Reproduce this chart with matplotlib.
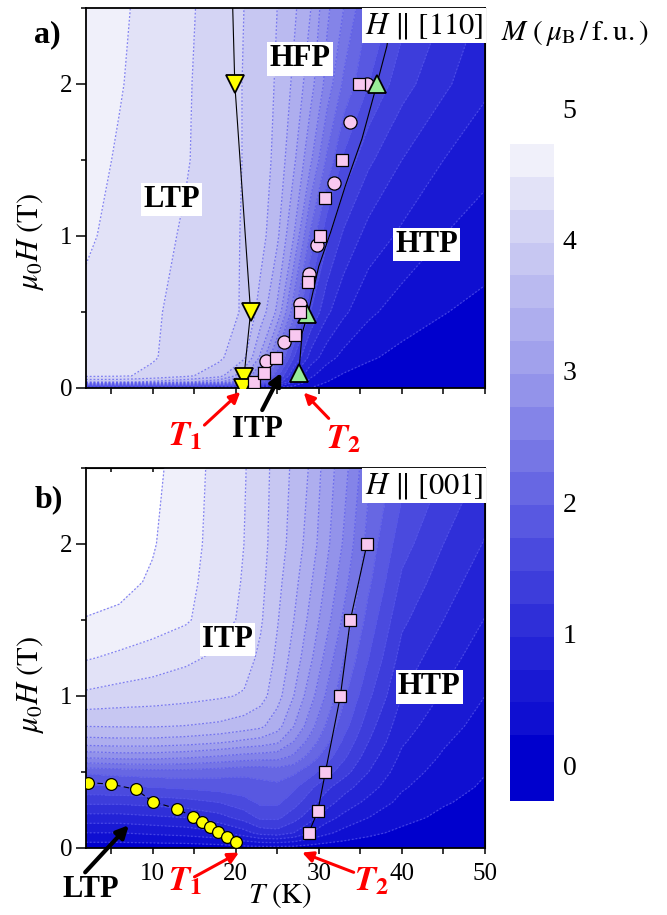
import numpy as np
import matplotlib.pyplot as plt

plt.rcParams['font.family'] = ['Liberation Serif', 'DejaVu Serif']
plt.rcParams['mathtext.fontset'] = 'stix'

# temperature grid (K) shared by both magnetization maps
T_grid = [2, 6, 10, 14, 18, 21, 23, 25, 27, 29, 31, 33, 36, 40, 45, 50]

# H || [110]: rows = field (T), columns = T_grid
H110 = [0, 0.04, 0.08, 0.2, 0.5, 1.0, 1.5, 2.0, 2.5]
M110 = [
    [0.6, 0.6, 0.6, 0.6, 0.6, 0.6, 0.5, 0.45, 0.35, 0.25, 0.15, 0.12, 0.1, 0.08, 0.06, 0.05],
    [3.8, 3.8, 3.7, 3.55, 3.3, 2.7, 2.1, 1.4, 0.8, 0.4, 0.25, 0.18, 0.12, 0.08, 0.06, 0.05],
    [4.3, 4.28, 4.2, 4.05, 3.85, 3.3, 2.6, 1.8, 1.0, 0.55, 0.32, 0.22, 0.15, 0.1, 0.07, 0.05],
    [4.4, 4.35, 4.27, 4.15, 4.05, 3.8, 3.2, 2.4, 1.5, 0.9, 0.6, 0.42, 0.28, 0.18, 0.12, 0.08],
    [4.45, 4.38, 4.28, 4.18, 4.08, 3.98, 3.65, 3.2, 2.35, 1.5, 1.05, 0.8, 0.55, 0.38, 0.26, 0.18],
    [4.53, 4.44, 4.33, 4.22, 4.1, 3.98, 3.85, 3.55, 3.0, 2.2, 1.55, 1.2, 0.9, 0.7, 0.5, 0.38],
    [4.6, 4.47, 4.36, 4.27, 4.12, 3.99, 3.87, 3.68, 3.3, 2.8, 2.2, 1.7, 1.3, 1.0, 0.75, 0.58],
    [4.65, 4.52, 4.38, 4.28, 4.12, 3.99, 3.88, 3.72, 3.45, 3.1, 2.65, 2.2, 1.75, 1.35, 1.05, 0.8],
    [4.7, 4.55, 4.4, 4.3, 4.13, 4.0, 3.88, 3.75, 3.55, 3.26, 2.8, 2.5, 2.0, 1.6, 1.25, 0.95],
]

# H || [001]: one column per temperature of T_grid, values along H001
H001 = [0, 0.1, 0.2, 0.3, 0.4, 0.5, 0.6, 0.7, 0.8, 1.0, 1.25, 1.5, 1.75, 2.0, 2.5]
M001_cols = [
    [0.1, 0.5, 0.9, 1.3, 1.7, 2.05, 2.8, 3.4, 3.75, 4.2, 4.52, 4.74, 4.85, 4.93, 4.97],
    [0.1, 0.5, 0.9, 1.3, 1.72, 2.1, 2.85, 3.42, 3.76, 4.15, 4.45, 4.7, 4.82, 4.88, 4.93],
    [0.1, 0.55, 0.95, 1.35, 1.75, 2.15, 2.85, 3.42, 3.76, 4.12, 4.38, 4.62, 4.72, 4.77, 4.82],
    [0.1, 0.6, 1.0, 1.4, 1.8, 2.15, 2.8, 3.38, 3.74, 4.08, 4.3, 4.53, 4.57, 4.6, 4.62],
    [0.12, 0.7, 1.15, 1.5, 1.85, 2.1, 2.72, 3.3, 3.7, 4.03, 4.2, 4.35, 4.38, 4.4, 4.42],
    [0.15, 0.9, 1.35, 1.65, 1.9, 2.05, 2.65, 3.2, 3.62, 3.98, 4.1, 4.2, 4.23, 4.25, 4.27],
    [0.15, 1.1, 1.55, 1.8, 1.95, 2.05, 2.62, 3.15, 3.55, 3.85, 3.95, 4.03, 4.07, 4.1, 4.12],
    [0.15, 1.15, 1.55, 1.8, 1.95, 2.1, 2.6, 3.05, 3.35, 3.6, 3.7, 3.77, 3.82, 3.87, 3.9],
    [0.15, 1.0, 1.35, 1.6, 1.8, 2.05, 2.45, 2.75, 3.0, 3.25, 3.4, 3.5, 3.58, 3.65, 3.7],
    [0.12, 0.75, 1.1, 1.35, 1.55, 1.85, 2.15, 2.4, 2.6, 2.85, 3.05, 3.18, 3.28, 3.38, 3.47],
    [0.1, 0.55, 0.85, 1.1, 1.3, 1.6, 1.85, 2.05, 2.2, 2.45, 2.65, 2.83, 2.95, 3.05, 3.12],
    [0.1, 0.42, 0.68, 0.9, 1.1, 1.35, 1.55, 1.7, 1.85, 2.05, 2.25, 2.45, 2.6, 2.72, 2.85],
    [0.1, 0.3, 0.5, 0.68, 0.85, 1.0, 1.12, 1.25, 1.35, 1.55, 1.75, 1.9, 2.05, 2.15, 2.3],
    [0.08, 0.2, 0.32, 0.43, 0.53, 0.62, 0.7, 0.78, 0.85, 1.0, 1.15, 1.3, 1.45, 1.6, 1.85],
    [0.06, 0.12, 0.2, 0.27, 0.34, 0.4, 0.47, 0.53, 0.6, 0.72, 0.85, 1.0, 1.12, 1.25, 1.5],
    [0.05, 0.09, 0.14, 0.18, 0.22, 0.26, 0.3, 0.35, 0.4, 0.5, 0.62, 0.74, 0.86, 0.98, 1.2],
]
M001 = np.array(M001_cols).T

# phase boundaries, H || [110]
t1a_T = [19.9, 21.8, 21.0, 20.9]
t1a_H = [2.0, 0.5, 0.07, 0.0]
t1a_line_T = [19.6, 19.9, 21.8, 21.0]
t1a_line_H = [2.6, 2.0, 0.5, 0.07]
t2a_T = [27.6, 28.6, 37.0]
t2a_H = [0.1, 0.49, 2.0]
t2a_line_T = [27.6, 28.0, 28.8, 30.0, 31.4, 33.2, 35.2, 37.0, 38.2, 39.0]
t2a_line_H = [0.1, 0.36, 0.51, 0.80, 1.02, 1.33, 1.64, 2.0, 2.25, 2.55]
sqa_T = [22.2, 23.4, 24.9, 27.1, 27.7, 28.7, 30.2, 30.8, 32.8, 34.8]
sqa_H = [0.04, 0.1, 0.2, 0.35, 0.5, 0.7, 1.0, 1.25, 1.5, 2.0]
cia_T = [23.7, 25.8, 27.8, 28.8, 29.8, 31.8, 33.8, 35.8]
cia_H = [0.18, 0.3, 0.55, 0.75, 0.94, 1.35, 1.75, 2.0]

# phase boundaries, H || [001]
t1b_T = [2.3, 5.0, 8.0, 10.0, 13.0, 14.85, 15.9, 16.9, 17.9, 19.0, 20.0]
t1b_H = [0.43, 0.42, 0.386, 0.305, 0.257, 0.206, 0.171, 0.14, 0.107, 0.074, 0.041]
t2b_T = [28.8, 29.9, 30.8, 32.6, 33.8, 35.8]
t2b_H = [0.1, 0.245, 0.5, 1.0, 1.5, 2.0]

# 0.25 muB contour steps, the lowest band reaching down to -0.25
levels = [-0.25] + [0.25 * i for i in range(1, 20)]
anchor_M = [0, 1, 2, 3, 4, 4.625]
anchor_rgb = np.array([(0, 0, 205), (40, 40, 215), (95, 95, 226),
                       (155, 155, 235), (205, 205, 243), (240, 240, 250)]) / 255
centers = [0.5 * (a + b) for a, b in zip(levels[:-1], levels[1:])]
centers[0] = 0
band_colors = [tuple(np.interp(c, anchor_M, anchor_rgb[:, k]) for k in range(3))
               for c in centers]

fig = plt.figure(figsize=(6.67, 9.15), dpi=100)
W, Hpx = 667, 915
ax1 = fig.add_axes([86 / W, 1 - 388 / Hpx, 399 / W, 380 / Hpx])
ax2 = fig.add_axes([86 / W, 1 - 848 / Hpx, 399 / W, 380 / Hpx])
cax = fig.add_axes([510 / W, 1 - 801 / Hpx, 44 / W, 657 / Hpx])


def draw_map(ax, H, M):
    cf = ax.contourf(T_grid, H, M, levels=levels, colors=band_colors)
    ax.contour(T_grid, H, M, levels=levels[1:], colors='#5656ee',
               linewidths=0.9, linestyles=[(0, (1.5, 1.5))], alpha=0.7)
    return cf


def style_axes(ax, xlabels):
    ax.set_xlim(2, 50)
    ax.set_ylim(0, 2.5)
    ax.set_xticks([10, 20, 30, 40, 50])
    ax.set_xticks([5, 15, 25, 35, 45], minor=True)
    ax.set_yticks([0, 1, 2])
    ax.set_yticks([0.5, 1.5, 2.5], minor=True)
    ax.tick_params(axis='x', which='both', direction='out', length=4, width=1.1,
                   labelsize=18, pad=7, labelbottom=xlabels)
    ax.tick_params(axis='y', which='major', direction='out', length=7, width=1.1,
                   labelsize=18, pad=3)
    ax.tick_params(axis='y', which='minor', direction='out', length=3.5, width=1.1)
    for s in ax.spines.values():
        s.set_linewidth(1.3)
    top = ax.secondary_xaxis('top')
    top.set_xticks([5, 10, 15, 20, 25, 30, 35, 40, 45, 50])
    top.tick_params(direction='in', length=3, width=1.1, labeltop=False)
    right = ax.secondary_yaxis('right')
    right.set_yticks([0.5, 1, 1.5, 2])
    right.tick_params(direction='in', length=3, width=1.1, labelright=False)
    ax.set_ylabel(r'$\mu_0H\ \mathrm{(T)}$', fontsize=22, va='center')


box = dict(facecolor='white', edgecolor='none', pad=1.5)
lab = dict(fontsize=22, fontweight='bold', ha='center', va='center', bbox=box, zorder=6)

# ---- H || [110]
cf = draw_map(ax1, H110, M110)
style_axes(ax1, False)
ax1.yaxis.set_label_coords(-0.14, 0.385)
ax1.plot(t1a_line_T, t1a_line_H, color='k', lw=0.8, zorder=3)
ax1.plot(t2a_line_T, t2a_line_H, color='k', lw=0.8, zorder=3)
ax1.plot(cia_T, cia_H, 'o', ms=9.5, mfc='#f8c8f0', mec='k', mew=0.9, zorder=4)
ax1.plot(t1a_T, t1a_H, 'v', ms=13, mfc='#ffff00', mec='k', mew=1.3, zorder=5)
ax1.plot(t2a_T, t2a_H, '^', ms=13, mfc='#98ec98', mec='k', mew=1.3, zorder=5)
ax1.plot(sqa_T, sqa_H, 's', ms=9, mfc='#f8c8f0', mec='k', mew=0.9, zorder=6)
ax1.text(27.75, 2.165, 'HFP', **lab)
ax1.text(12.3, 1.24, 'LTP', **lab)
ax1.text(43.0, 0.945, 'HTP', **lab)
ax1.text(0.995, 0.993, r'$H\ \Vert\ \mathrm{[110]}$', transform=ax1.transAxes,
         fontsize=22, ha='right', va='top', zorder=7,
         bbox=dict(facecolor='white', edgecolor='none', pad=2))

arr_red = dict(arrowstyle='-|>', color='red', lw=2.2, mutation_scale=16,
               shrinkA=0, shrinkB=0)
arr_blk = dict(arrowstyle='-|>', color='k', lw=3, mutation_scale=18,
               shrinkA=0, shrinkB=0)
ax1.annotate('', xy=(20.56, -0.026), xytext=(16.25, -0.244),
             arrowprops=arr_red, annotation_clip=False)
ax1.text(13.9, -0.32, r'$\mathbfit{T}_{\mathbf{1}}$', color='red', fontsize=25,
         ha='center', va='center', clip_on=False)
ax1.annotate('', xy=(25.5, 0.1), xytext=(23.2, -0.145),
             arrowprops=arr_blk, annotation_clip=False)
ax1.text(22.6, -0.27, 'ITP', fontsize=22, fontweight='bold',
         ha='center', va='center', clip_on=False)
ax1.annotate('', xy=(28.2, -0.03), xytext=(31.2, -0.2),
             arrowprops=arr_red, annotation_clip=False)
ax1.text(33.0, -0.34, r'$\mathbfit{T}_{\mathbf{2}}$', color='red', fontsize=25,
         ha='center', va='center', clip_on=False)

# ---- H || [001]
draw_map(ax2, H001, M001)
style_axes(ax2, True)
ax2.yaxis.set_label_coords(-0.14, 0.43)
ax2.set_xlabel(r'$T\ \mathrm{(K)}$', fontsize=21, va='center')
ax2.xaxis.set_label_coords(0.486, -0.125)
ax2.plot(t1b_T, t1b_H, color='k', lw=0.8, ls=(0, (5, 3)), zorder=3)
ax2.plot(t1b_T, t1b_H, 'o', ms=8.5, mfc='#ffff00', mec='k', mew=0.9, zorder=5)
ax2.plot(t2b_T, t2b_H, color='k', lw=0.8, zorder=3)
ax2.plot(t2b_T, t2b_H, 's', ms=9, mfc='#f8c8f0', mec='k', mew=0.9, zorder=5)
ax2.text(19.0, 1.37, 'ITP', **lab)
ax2.text(43.3, 1.06, 'HTP', **lab)
ax2.text(0.995, 0.993, r'$H\ \Vert\ \mathrm{[001]}$', transform=ax2.transAxes,
         fontsize=22, ha='right', va='top', zorder=7,
         bbox=dict(facecolor='white', edgecolor='none', pad=2))
ax2.annotate('', xy=(7.15, 0.15), xytext=(1.9, -0.16),
             arrowprops=arr_blk, annotation_clip=False)
ax2.text(2.6, -0.27, 'LTP', fontsize=22, fontweight='bold',
         ha='center', va='center', clip_on=False)
ax2.annotate('', xy=(20.4, -0.03), xytext=(15.05, -0.19),
             arrowprops=arr_red, annotation_clip=False)
ax2.text(13.9, -0.22, r'$\mathbfit{T}_{\mathbf{1}}$', color='red', fontsize=25,
         ha='center', va='center', clip_on=False)
ax2.annotate('', xy=(28.0, -0.03), xytext=(34.2, -0.16),
             arrowprops=arr_red, annotation_clip=False)
ax2.text(36.4, -0.22, r'$\mathbfit{T}_{\mathbf{2}}$', color='red', fontsize=25,
         ha='center', va='center', clip_on=False)

fig.text(47 / W, 1 - 35 / Hpx, 'a)', fontsize=23, fontweight='bold',
         ha='center', va='center')
fig.text(49 / W, 1 - 500 / Hpx, 'b)', fontsize=23, fontweight='bold',
         ha='center', va='center')

# colour scale
cb = fig.colorbar(cf, cax=cax, spacing='proportional')
cb.outline.set_visible(False)
cax.set_yticks([])
for v in range(6):
    cax.text(1.2, v, str(v), transform=cax.get_yaxis_transform(), fontsize=20,
             ha='left', va='center', clip_on=False)
fig.text(575 / W, 1 - 33 / Hpx, r'$M\ (\,\mu_\mathrm{B}\,/\,\mathrm{f.u.})$',
         fontsize=21, ha='center', va='center')

fig.savefig('out.png', dpi=100)
